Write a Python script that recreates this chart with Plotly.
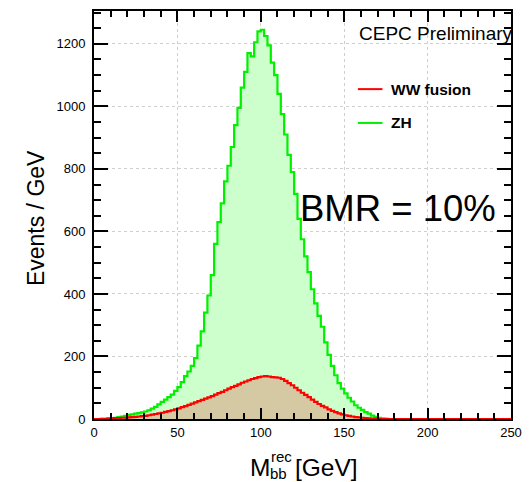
import plotly.graph_objects as go

# ---------------- data (2 GeV bins from 0 to 250) ----------------
bin_width = 2
bin_low = 0
zh_events = [0, 0, 1, 1, 2, 3, 4, 6, 8, 10,
             13, 15, 17, 19, 21, 24, 28, 33, 39, 47,
             55, 62, 70, 78, 90, 102, 118, 137, 152, 170,
             195, 235, 280, 340, 395, 460, 560, 630, 690, 760,
             810, 870, 940, 995, 1060, 1110, 1170, 1160, 1205, 1240,
             1245, 1225, 1195, 1140, 1100, 1040, 975, 910, 845, 790,
             720, 640, 575, 520, 470, 415, 370, 330, 295, 245,
             205, 170, 140, 115, 97, 82, 68, 56, 44, 36,
             29, 22, 17, 11, 7, 4, 2, 1, 0, 0,
             0, 0, 0, 0, 0, 0, 0, 0, 0, 0,
             0, 0, 0, 0, 0, 0, 0, 0, 0, 0,
             0, 0, 0, 0, 0, 0, 0, 0, 0, 0,
             0, 0, 0, 0, 0]
ww_events = [0, 0, 0, 0, 1, 2, 3, 3, 4, 4,
             5, 6, 7, 8, 9, 10, 12, 14, 16, 18,
             20, 23, 25, 28, 31, 34, 38, 41, 45, 49,
             53, 57, 61, 65, 69, 73, 78, 83, 87, 92,
             97, 102, 106, 111, 116, 120, 124, 128, 131, 134,
             136, 137, 136, 134, 133, 132, 128, 122, 115, 108,
             100, 92, 84, 77, 70, 62, 55, 48, 42, 37,
             31, 26, 22, 18, 15, 12, 10, 8, 6, 5,
             4, 3, 2, 1, 1, 0, 0, 0, 0, 0,
             0, 0, 0, 0, 0, 0, 0, 0, 0, 0,
             0, 0, 0, 0, 0, 0, 0, 0, 0, 0,
             0, 0, 0, 0, 0, 0, 0, 0, 0, 0,
             0, 0, 0, 0, 0]
series_names = ["WW fusion", "ZH"]
x_range = [0, 250]
y_range = [0, 1305]
x_ticks = [0, 50, 100, 150, 200, 250]
y_ticks = [0, 200, 400, 600, 800, 1000, 1200]

# ---------------- layout helpers ----------------
W, H = 531, 482
L, R, T, B = 94, 519, 9, 419   # plot frame in pixels


def px(xp):
    return (xp - L) / (R - L)


def py(yp):
    return (B - yp) / (B - T)


def steps(vals):
    edges = [bin_low + i * bin_width for i in range(len(vals) + 1)]
    return edges, list(vals) + [vals[-1]]


FONT = "Liberation Sans, Arial, Helvetica, sans-serif"
GREEN = "#00f000"
RED = "#ff0000"

fig = go.Figure()

zx, zy = steps(zh_events)
fig.add_trace(go.Scatter(x=zx, y=zy, mode="lines", line=dict(shape="hv", color=GREEN, width=2.2),
                         fill="tozeroy", fillcolor="#ccffcc", name=series_names[1], showlegend=False))
wx, wy = steps(ww_events)
fig.add_trace(go.Scatter(x=wx, y=wy, mode="lines", line=dict(shape="hv", color=RED, width=2.2),
                         fill="tozeroy", fillcolor="#d4c9a2", name=series_names[0], showlegend=False))

axis_common = dict(showline=True, linecolor="black", linewidth=2, mirror="allticks",
                   ticks="inside", tickcolor="black", tickwidth=2,
                   showgrid=True, gridcolor="#cfcfcf", griddash="dot", gridwidth=1,
                   zeroline=False, tickfont=dict(family=FONT, size=13, color="black"))

fig.update_xaxes(range=x_range, tickvals=x_ticks, ticklen=11,
                 minor=dict(ticks="inside", ticklen=6, dtick=10, tickwidth=2, tickcolor="black", showgrid=False),
                 **axis_common)
fig.update_yaxes(range=y_range, tickvals=y_ticks, ticklen=14,
                 minor=dict(ticks="inside", ticklen=7, dtick=50, tickwidth=2, tickcolor="black", showgrid=False),
                 ticklabelstandoff=4,
                 **axis_common)

shapes = [
    # legend box (hides grid)
    dict(type="rect", xref="paper", yref="paper", x0=px(358), x1=px(518), y0=py(150), y1=py(43),
         fillcolor="white", line=dict(width=0), layer="between"),
    # legend line samples
    dict(type="line", xref="paper", yref="paper", x0=px(363), x1=px(388), y0=py(87.5), y1=py(87.5),
         line=dict(color=RED, width=2)),
    dict(type="line", xref="paper", yref="paper", x0=px(363), x1=px(388), y0=py(121.5), y1=py(121.5),
         line=dict(color=GREEN, width=2)),
]

ann = []


def add_text(text, x, y, size, xanchor="left", yanchor="middle", bold=False, angle=0):
    ann.append(dict(text=("<b>%s</b>" % text) if bold else text, x=px(x), y=py(y),
                    xref="paper", yref="paper", showarrow=False, xanchor=xanchor, yanchor=yanchor,
                    textangle=angle, font=dict(family=FONT, size=size, color="black")))


add_text(series_names[0], 395, 87.5, 15.5, bold=True)
add_text(series_names[1], 395, 121.5, 15.5, bold=True)
add_text("CEPC Preliminary", 362, 32, 19)
add_text("BMR = 10%", 302, 207, 36.5)
add_text("Events / GeV", 35, 217, 23, xanchor="center", angle=-90)
# x-axis title: M with stacked sub/superscript, then [GeV]
add_text("M", 251, 468, 24.5)
add_text("rec", 272, 457, 15)
add_text("bb", 271, 474, 15)
add_text("[GeV]", 297, 468, 24.5)

fig.update_layout(width=W, height=H, margin=dict(l=L, r=W - R, t=T, b=H - B),
                  paper_bgcolor="white", plot_bgcolor="white",
                  shapes=shapes, annotations=ann, showlegend=False)

fig.write_html("out.html")
